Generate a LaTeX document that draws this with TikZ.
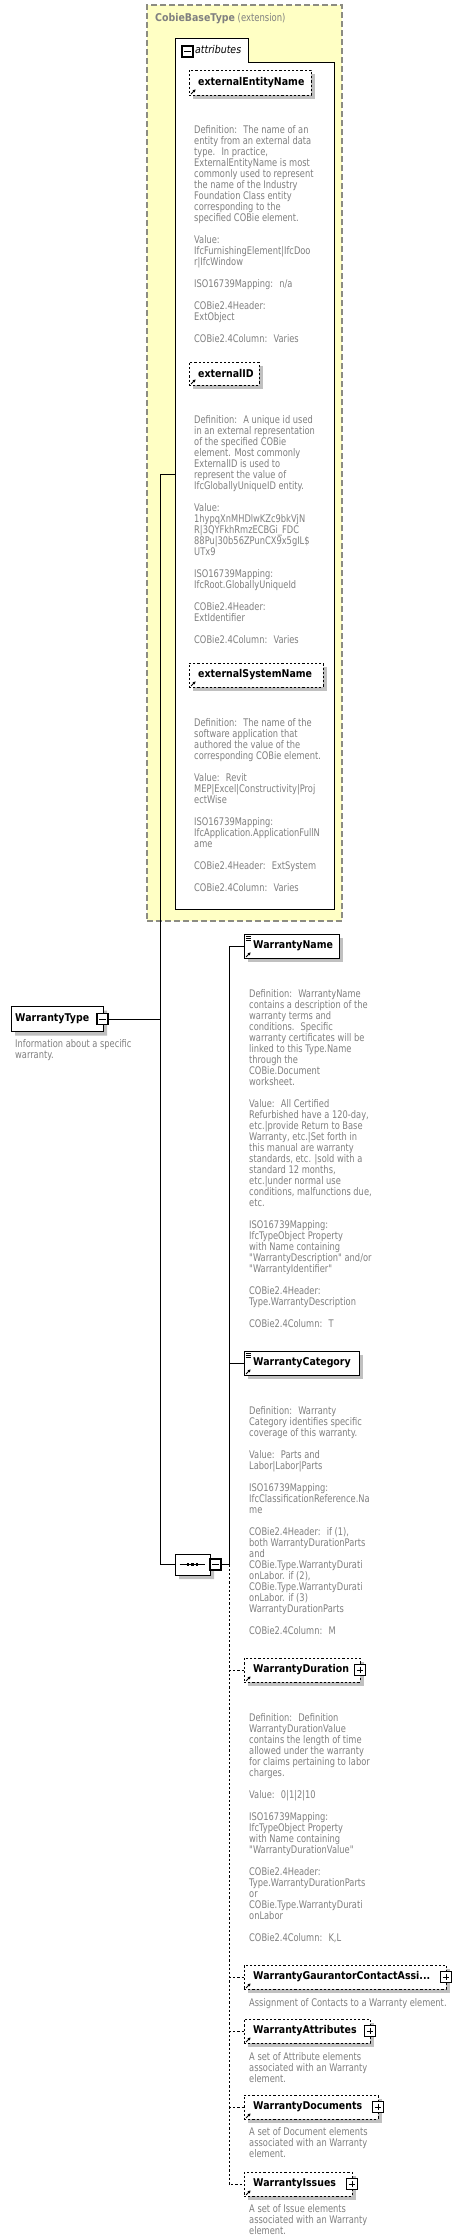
\documentclass[tikz,border=0pt]{standalone}
\usepackage{fontspec}
\setmainfont{DejaVu Sans}
\newfontfamily\descfont[FakeStretch=0.79]{DejaVu Sans}
\newfontfamily\namefont[FakeStretch=0.88]{DejaVu Sans}
\usetikzlibrary{shadows,shapes.misc,arrows.meta}
\definecolor{descgray}{RGB}{128,128,128}
\definecolor{shadowgray}{RGB}{192,192,192}
\definecolor{extyellow}{RGB}{255,255,196}
\definecolor{extborder}{RGB}{140,140,130}
\tikzset{
  desc/.style={font=\descfont\fontsize{10.5}{11}\selectfont, text=descgray, anchor=north west, inner sep=0pt, align=left},
  elname/.style={font=\namefont\fontsize{10.7}{13}\selectfont\bfseries, anchor=west, inner sep=0pt},
  shad/.style={drop shadow={shadow xshift=4pt, shadow yshift=-4pt, fill=shadowgray, opacity=1}},
  solidbox/.style={draw, line width=0.9pt, fill=white, rectangle, inner sep=0pt, shad},
  optbox/.style={draw, line width=0.9pt, dash pattern=on 2.2pt off 2pt, fill=white, rectangle, inner sep=0pt, shad},
  pmbox/.style={draw, line width=1.2pt, fill=white, rectangle, minimum size=11pt, inner sep=0pt},
  minusbox/.style={pmbox, path picture={\draw[line width=0.9pt] ([xshift=2.2pt]path picture bounding box.west) -- ([xshift=-2.2pt]path picture bounding box.east);}},
  plusbox/.style={pmbox, path picture={\draw[line width=0.9pt] ([xshift=2.2pt]path picture bounding box.west) -- ([xshift=-2.2pt]path picture bounding box.east); \draw[line width=0.9pt] ([yshift=-2.2pt]path picture bounding box.north) -- ([yshift=2.2pt]path picture bounding box.south);}},
  conn/.style={line width=0.9pt},
  optconn/.style={line width=0.9pt, dash pattern=on 2.2pt off 2pt}
}
\newcommand\listicon[1]{\draw[line width=0.6pt] ([shift={(2pt,-2.5pt)}]#1.north west) -- ++(5pt,0pt) ([shift={(2pt,-4.5pt)}]#1.north west) -- ++(5pt,0pt) ([shift={(2pt,-6.5pt)}]#1.north west) -- ++(5pt,0pt);}
\newcommand\refarrow[1]{\draw[line width=0.9pt,-{Triangle[length=2.6pt,width=2.8pt]}] ([shift={(2.5pt,1.5pt)}]#1.south west) -- ++(4.5pt,4.5pt);}
\begin{document}
\begin{tikzpicture}[x=1pt,y=-1pt]
\useasboundingbox[fill=white] (0,0) rectangle (474,2240);

% extension box
\node[draw=extborder, fill=extyellow, line width=1.2pt, dash pattern=on 6pt off 3pt, rectangle, minimum width=195pt, minimum height=916pt, inner sep=0pt] (ext) at (244.5,463) {};
\node[anchor=west, inner sep=0pt, text=descgray] (exttitle) at (155,19) {{\namefont\fontsize{10.7}{13}\selectfont\bfseries CobieBaseType}{\descfont\fontsize{10.7}{13}\selectfont\ (extension)}};

% attributes box with tab
\draw[line width=0.9pt, fill=white] (175,909) -- (175,38) -- (248,38) -- (248,62) -- (334,62) -- (334,909) -- cycle;
\node[minusbox] (attrminus) at (187.5,51.5) {};
\node[anchor=west, inner sep=0pt, font=\namefont\fontsize{10.7}{13}\selectfont\itshape] (attrlabel) at (195,50) {attributes};
\coordinate (attrL) at (175,474);

% attribute elements
\node[optbox, minimum width=122pt, minimum height=25pt] (eEnt) at (250,82.5) {};
\refarrow{eEnt}
\node[elname] (eEntT) at (198,82.5) {externalEntityName};
\node[desc] (eEntD) at (194,125) {Definition:~ The name of an\\
entity from an external data\\
type.~ In practice,\\
ExternalEntityName is most\\
commonly used to represent\\
the name of the Industry\\
Foundation Class entity\\
corresponding to the\\
specified COBie element.\\[11pt]
Value:\\
IfcFurnishingElement|IfcDoo\\
r|IfcWindow\\[11pt]
ISO16739Mapping:~ n/a\\[11pt]
COBie2.4Header:\\
ExtObject\\[11pt]
COBie2.4Column:~ Varies};

\node[optbox, minimum width=70pt, minimum height=23pt] (eID) at (224,373.5) {};
\refarrow{eID}
\node[elname] (eIDT) at (198,373.5) {externalID};
\node[desc] (eIDD) at (194,415) {Definition:~ A unique id used\\
in an external representation\\
of the specified COBie\\
element. Most commonly\\
ExternalID is used to\\
represent the value of\\
IfcGloballyUniqueID entity.\\[11pt]
Value:\\
1hypqXnMHDlwKZc9bkVjN\\
R|3QYFkhRmzECBGi\_FDC\\
88Pu|30b56ZPunCX9x5gIL\$\\
UTx9\\[11pt]
ISO16739Mapping:\\
IfcRoot.GloballyUniqueId\\[11pt]
COBie2.4Header:\\
ExtIdentifier\\[11pt]
COBie2.4Column:~ Varies};

\node[optbox, minimum width=134pt, minimum height=24pt] (eSys) at (256,675) {};
\refarrow{eSys}
\node[elname] (eSysT) at (198,675) {externalSystemName};
\node[desc] (eSysD) at (194,718) {Definition:~ The name of the\\
software application that\\
authored the value of the\\
corresponding COBie element.\\[11pt]
Value:~ Revit\\
MEP|Excel|Constructivity|Proj\\
ectWise\\[11pt]
ISO16739Mapping:\\
IfcApplication.ApplicationFullN\\
ame\\[11pt]
COBie2.4Header:~ ExtSystem\\[11pt]
COBie2.4Column:~ Varies};

% root element
\node[draw, line width=0.9pt, fill=white, chamfered rectangle, chamfered rectangle corners={north west,south west}, chamfered rectangle xsep=4pt, chamfered rectangle ysep=4pt, minimum width=92pt, minimum height=25pt, inner sep=0pt, shad] (wt) at (57,1019) {};
\node[elname] (wtT) at (15,1019) {WarrantyType};
\node[minusbox] (wtminus) at (102.5,1019) {};
\node[desc] (wtD) at (15,1039) {Information about a specific\\
warranty.};

% sequence compositor
\node[draw, line width=0.9pt, fill=white, chamfered rectangle, chamfered rectangle xsep=6pt, chamfered rectangle ysep=6pt, minimum width=35pt, minimum height=21pt, inner sep=0pt, shad] (seq) at (192.5,1564.5) {};
\draw[line width=0.8pt] ([xshift=5pt]seq.west) -- ([xshift=-5pt]seq.east);
\foreach \dx in {-4.5,0,4.5} \fill ([xshift=\dx pt]seq.center) +(-1.4pt,-1.4pt) rectangle +(1.4pt,1.4pt);
\node[minusbox] (seqminus) at (215.5,1564.5) {};

% child elements
\node[solidbox, minimum width=95pt, minimum height=24pt] (wname) at (291.5,946) {};
\listicon{wname}\refarrow{wname}
\node[elname] (wnameT) at (253,946) {WarrantyName};
\node[desc] (wnameD) at (249,989) {Definition:~ WarrantyName\\
contains a description of the\\
warranty terms and\\
conditions.~ Specific\\
warranty certificates will be\\
linked to this Type.Name\\
through the\\
COBie.Document\\
worksheet.\\[11pt]
Value:~ All Certified\\
Refurbished have a 120-day,\\
etc.|provide Return to Base\\
Warranty, etc.|Set forth in\\
this manual are warranty\\
standards, etc. |sold with a\\
standard 12 months,\\
etc.|under normal use\\
conditions, malfunctions due,\\
etc.\\[11pt]
ISO16739Mapping:\\
IfcTypeObject Property\\
with Name containing\\
"WarrantyDescription" and/or\\
"WarrantyIdentifier"\\[11pt]
COBie2.4Header:\\
Type.WarrantyDescription\\[11pt]
COBie2.4Column:~ T};

\node[solidbox, minimum width=115pt, minimum height=24pt] (wcat) at (301.5,1363) {};
\listicon{wcat}\refarrow{wcat}
\node[elname] (wcatT) at (253,1363) {WarrantyCategory};
\node[desc] (wcatD) at (249,1406) {Definition:~ Warranty\\
Category identifies specific\\
coverage of this warranty.\\[11pt]
Value:~ Parts and\\
Labor|Labor|Parts\\[11pt]
ISO16739Mapping:\\
IfcClassificationReference.Na\\
me\\[11pt]
COBie2.4Header:~ if (1),\\
both WarrantyDurationParts\\
and\\
COBie.Type.WarrantyDurati\\
onLabor. if (2),\\
COBie.Type.WarrantyDurati\\
onLabor. if (3)\\
WarrantyDurationParts\\[11pt]
COBie2.4Column:~ M};

\node[optbox, minimum width=116pt, minimum height=24pt] (wdur) at (302,1670) {};
\refarrow{wdur}
\node[elname] (wdurT) at (253,1670) {WarrantyDuration};
\node[plusbox] (wdurplus) at (360,1670) {};
\node[desc] (wdurD) at (249,1713) {Definition:~ Definition\\
WarrantyDurationValue\\
contains the length of time\\
allowed under the warranty\\
for claims pertaining to labor\\
charges.\\[11pt]
Value:~ 0|1|2|10\\[11pt]
ISO16739Mapping:\\
IfcTypeObject Property\\
with Name containing\\
"WarrantyDurationValue"\\[11pt]
COBie2.4Header:\\
Type.WarrantyDurationParts\\
or\\
COBie.Type.WarrantyDurati\\
onLabor\\[11pt]
COBie2.4Column:~ K,L};

\node[optbox, minimum width=202pt, minimum height=24pt] (wgc) at (345,1977) {};
\refarrow{wgc}
\node[elname] (wgcT) at (253,1977) {WarrantyGaurantorContactAssi...};
\node[plusbox] (wgcplus) at (446,1977) {};
\node[desc] (wgcD) at (249,1998) {Assignment of Contacts to a Warranty element.};

\node[optbox, minimum width=126pt, minimum height=24pt] (wattr) at (307,2031) {};
\refarrow{wattr}
\node[elname] (wattrT) at (253,2031) {WarrantyAttributes};
\node[plusbox] (wattrplus) at (370,2031) {};
\node[desc] (wattrD) at (249,2052) {A set of Attribute elements\\
associated with an Warranty\\
element.};

\node[optbox, minimum width=134pt, minimum height=24pt] (wdoc) at (311,2107) {};
\refarrow{wdoc}
\node[elname] (wdocT) at (253,2107) {WarrantyDocuments};
\node[plusbox] (wdocplus) at (378,2107) {};
\node[desc] (wdocD) at (249,2127) {A set of Document elements\\
associated with an Warranty\\
element.};

\node[optbox, minimum width=108pt, minimum height=24pt] (wiss) at (298,2184) {};
\refarrow{wiss}
\node[elname] (wissT) at (253,2184) {WarrantyIssues};
\node[plusbox] (wissplus) at (352,2184) {};
\node[desc] (wissD) at (249,2204) {A set of Issue elements\\
associated with an Warranty\\
element.};

% connectors
\coordinate (bus1top) at (160,474);
\coordinate (bus1bot) at (160,1564.5);
\coordinate (bus2) at (229,1564.5);
\draw[conn] (wtminus.east) -- (wtminus.east -| bus1top);
\draw[conn] (bus1top) -- (bus1bot);
\draw[conn] (bus1top) -- (attrL);
\draw[conn] (bus1bot) -- (seq.west);
\draw[conn] (seqminus.east) -- (bus2);
\draw[conn] (bus2) -- (bus2 |- wname.west) -- (wname.west);
\draw[conn] (bus2 |- wcat.west) -- (wcat.west);
\draw[optconn] (bus2) -- (bus2 |- wiss.west) -- (wiss.west);
\draw[optconn] (bus2 |- wdur.west) -- (wdur.west);
\draw[optconn] (bus2 |- wgc.west) -- (wgc.west);
\draw[optconn] (bus2 |- wattr.west) -- (wattr.west);
\draw[optconn] (bus2 |- wdoc.west) -- (wdoc.west);
\end{tikzpicture}
\end{document}
